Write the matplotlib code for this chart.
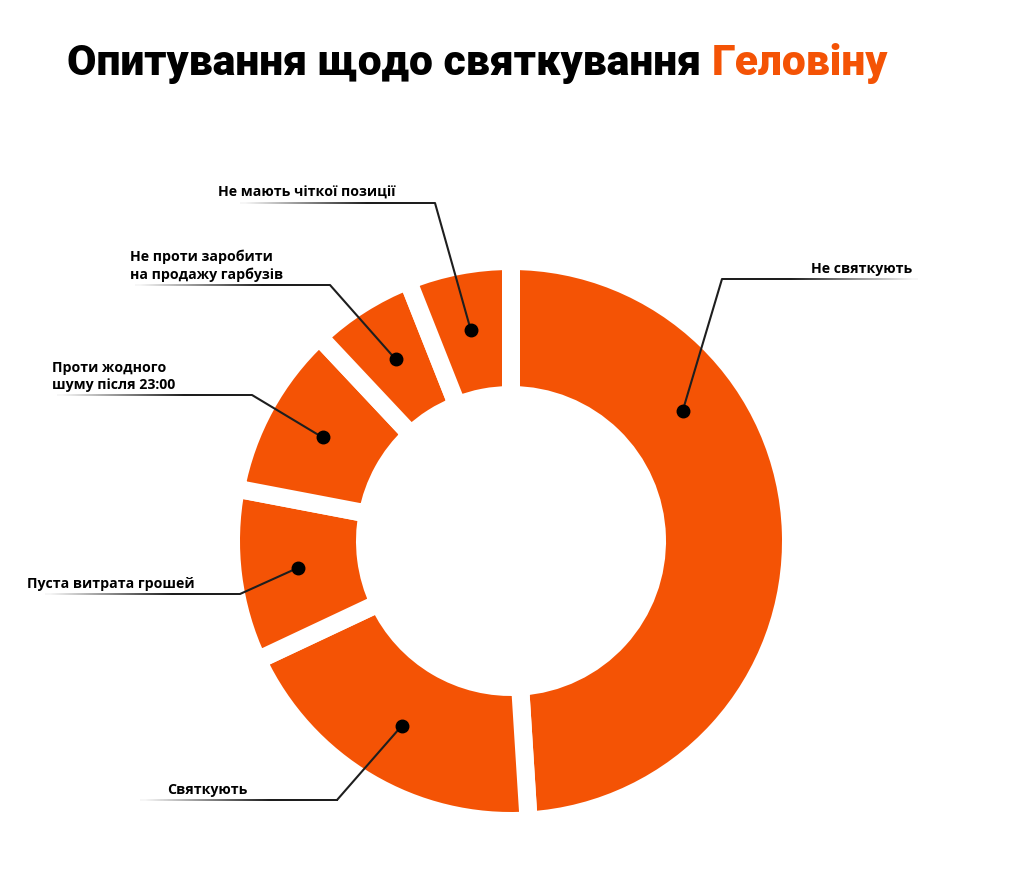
import numpy as np
import matplotlib.pyplot as plt

# survey results, clockwise from the top
labels = [
    "Не святкують",
    "Святкують",
    "Пуста витрата грошей",
    "Проти жодного\nшуму після 23:00",
    "Не проти заробити\nна продажу гарбузів",
    "Не мають чіткої позиції",
]
shares = [49, 19, 10, 10, 6, 6]

ORANGE = "#F45305"
DARK = "#1e1e1e"
W, H = 1024, 869
CX, CY, R = 511, 541, 271       # donut centre / outer radius in pixels
R_IN = 155
GAP = 18                        # white gap between wedges, px

# label layout in pixels: elbow of leader, far end of the underline, text anchor
elbows = [(722, 279), (337, 800), (240, 594), (252, 395), (330, 285), (435, 203)]
line_ends = [918, 140, 45, 57, 135, 240]
text_x = [912, 167, 27, 52, 130, 218]
text_ha = ["right", "left", "left", "left", "left", "left"]
dot_frac = [0.3, 0.5, 0.5, 0.5, 0.5, 0.5]   # where along the wedge the dot sits


def px(x, y):
    return (x - CX) / R, (CY - y) / R


fig = plt.figure(figsize=(W / 100, H / 100), dpi=100)
ax = fig.add_axes([0, 0, 1, 1])

pad = GAP / 2 / R
ax.pie(
    shares,
    radius=1 + pad,
    startangle=90,
    counterclock=False,
    colors=[ORANGE] * len(shares),
    wedgeprops=dict(width=(R - R_IN) / R + 2 * pad, edgecolor="white",
                    linewidth=GAP * 72 / 100),
)

# fading underline: dark at the elbow, near-white at the far end
fade = np.linspace(0, 1, 256)
alpha = np.clip(1 - (fade - 0.35) / 0.65, 0.04, 1)
grad = np.zeros((1, 256, 4))
grad[..., :3] = 0.118
grad[0, :, 3] = alpha

starts = np.concatenate([[0], np.cumsum(shares)[:-1]])
r_dot = ((R + R_IN) / 2 + 2) / R
half = 1.0 / R
for i, lab in enumerate(labels):
    ang = np.deg2rad((starts[i] + dot_frac[i] * shares[i]) * 3.6)
    dx, dy = r_dot * np.sin(ang), r_dot * np.cos(ang)
    ex, ey = px(*elbows[i])
    ax.plot([dx, ex], [dy, ey], color=DARK, lw=1.5, solid_capstyle="round", zorder=3)
    ax.plot(dx, dy, "o", color="black", ms=9, zorder=4)

    x1, _ = px(line_ends[i], elbows[i][1])
    ax.imshow(grad, extent=[ex, x1, ey - half, ey + half], aspect="auto",
              interpolation="bilinear", zorder=3)

    tx, ty = px(text_x[i], elbows[i][1] - 3)
    ax.text(tx, ty, lab, ha=text_ha[i], va="bottom", fontsize=10.2,
            fontweight="bold", family="Open Sans", color="black", linespacing=1.3)

ax.set_xlim(-CX / R, (W - CX) / R)
ax.set_ylim(-(H - CY) / R, CY / R)
ax.set_aspect("equal")
ax.axis("off")

# title with the last word in orange
t1 = fig.text(67 / W, 1 - 75 / H, "Опитування щодо святкування ", fontsize=30.7,
              fontweight="black", family="Roboto", color="black", va="baseline")
fig.canvas.draw()
bb = t1.get_window_extent()
fig.text(bb.x1 / W, 1 - 75 / H, "Геловіну", fontsize=30.7, fontweight="black",
         family="Roboto", color=ORANGE, va="baseline")

fig.savefig("out.png", dpi=100, facecolor="white")
